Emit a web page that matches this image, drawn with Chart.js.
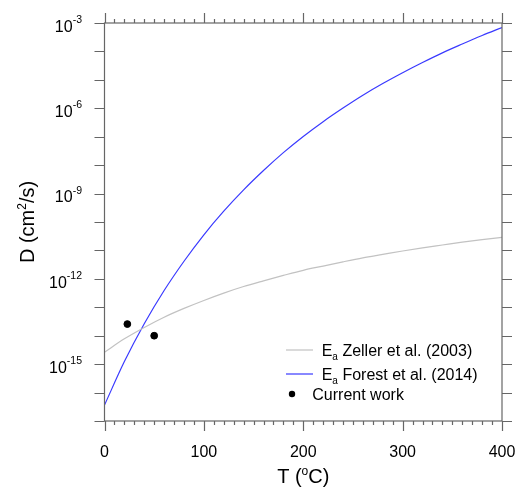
<!DOCTYPE html>
<html><head><meta charset="utf-8">
<script src="https://cdn.jsdelivr.net/npm/chart.js@4.4.0/dist/chart.umd.min.js"></script>
<style>html,body{margin:0;padding:0;background:#fff;}#wrap{width:517px;height:488px;}</style>
</head><body><div id="wrap"><canvas id="c" width="517" height="488"></canvas></div>
<script>
// ---- data ----
const temperatures = [0,20,40,60,80,100,120,140,160,180,200,220,240,260,280,300,320,340,360,380,400];
const zellerD = [2.63e-15,7.76e-15,1.95e-14,4.47e-14,9.12e-14,1.74e-13,3.16e-13,5.37e-13,8.51e-13,1.32e-12,2.00e-12,2.82e-12,3.98e-12,5.50e-12,7.24e-12,9.55e-12,1.23e-11,1.55e-11,1.95e-11,2.40e-11,2.88e-11];
const forestD = [3.63e-17,1.23e-15,2.63e-14,3.89e-13,4.17e-12,3.55e-11,2.40e-10,1.35e-9,6.46e-9,2.75e-8,1.02e-7,3.39e-7,1.02e-6,2.88e-6,7.41e-6,1.78e-5,4.07e-5,8.91e-5,1.82e-4,3.63e-4,6.92e-4];
const currentT = [23, 50];
const currentD = [2.57e-14, 1.0e-14];
const xTickLabels = [0,100,200,300,400];
const yTickExponents = [-3,-6,-9,-12,-15];
const seriesLabels = ['E\u2090 Zeller et al. (2003)','E\u2090 Forest et al. (2014)','Current work'];

const FONT = '"Liberation Sans", Arial, Helvetica, sans-serif';

function drawParts(ctx, parts, x, baseline, align){
  let total = 0;
  parts.forEach(p=>{ctx.font = p.size+'px '+FONT; p.w = ctx.measureText(p.t).width; total += p.w;});
  let cx = align==='right' ? x-total : align==='center' ? x-total/2 : x;
  ctx.textAlign='left'; ctx.textBaseline='alphabetic';
  parts.forEach(p=>{ctx.font = p.size+'px '+FONT; ctx.fillText(p.t, cx, baseline+(p.dy||0)); cx += p.w;});
}

const framePlugin = {
  id:'frame',
  afterDraw(chart){
    const {ctx, chartArea:{left,right,top,bottom}, scales:{x,y}} = chart;
    ctx.save();
    ctx.strokeStyle = '#666'; ctx.lineWidth = 1.2;
    ctx.beginPath();
    for(let v=x.min; v<=x.max; v+=10){
      const px = Math.round(x.getPixelForValue(v))+0.5;
      const len = (v%100===0)?10:4;
      ctx.moveTo(px,bottom); ctx.lineTo(px,bottom+len);
      ctx.moveTo(px,top); ctx.lineTo(px,top-len);
    }
    for(let e=-17; e<=-3; e++){
      const py = Math.round(y.getPixelForValue(Math.pow(10,e)))+0.5;
      ctx.moveTo(left-10,py); ctx.lineTo(left,py);
      ctx.moveTo(right,py); ctx.lineTo(right+10,py);
    }
    ctx.stroke();
    ctx.strokeRect(left,top,right-left,bottom-top);
    ctx.fillStyle = '#000';
    yTickExponents.forEach(e=>{
      const py = y.getPixelForValue(Math.pow(10,e));
      drawParts(ctx,[{t:'10',size:16},{t:String(e),size:10.5,dy:-8.7}], left-22.5, py+8.7, 'right');
    });
    xTickLabels.forEach(v=>{
      const px = x.getPixelForValue(v);
      drawParts(ctx,[{t:String(v),size:16}], px, 456.5, 'center');
    });
    drawParts(ctx,[{t:'T (',size:20},{t:'o',size:12,dy:-8},{t:'C)',size:20}], (left+right)/2, 482.5, 'center');
    ctx.save();
    ctx.translate(34,(top+bottom)/2); ctx.rotate(-Math.PI/2);
    drawParts(ctx,[{t:'D (cm',size:20},{t:'2',size:12,dy:-8},{t:'/s)',size:20}], 0, 0, 'center');
    ctx.restore();
    const ds = chart.data.datasets;
    [[0,350],[1,374]].forEach(([i,yy])=>{
      ctx.strokeStyle = ds[i].borderColor; ctx.lineWidth = 1.2;
      ctx.beginPath(); ctx.moveTo(286,yy); ctx.lineTo(313,yy); ctx.stroke();
      const name = ds[i].label.replace('E\u2090','');
      drawParts(ctx,[{t:'E',size:16},{t:'a',size:10,dy:4},{t:name,size:16}], 321.7, yy+5.7, 'left');
    });
    ctx.fillStyle='#000';
    ctx.beginPath(); ctx.arc(292,394,3.2,0,Math.PI*2); ctx.fill();
    drawParts(ctx,[{t:ds[2].label,size:16}], 312.3, 399.5, 'left');
    ctx.restore();
  }
};

new Chart(document.getElementById('c'),{
  type:'line',
  data:{datasets:[
    {label:seriesLabels[0], data:temperatures.map((t,i)=>({x:t,y:zellerD[i]})), borderColor:'#c2c2c2', borderWidth:1.2, pointRadius:0, cubicInterpolationMode:'monotone', fill:false},
    {label:seriesLabels[1], data:temperatures.map((t,i)=>({x:t,y:forestD[i]})), borderColor:'#3a3aff', borderWidth:1.2, pointRadius:0, cubicInterpolationMode:'monotone', fill:false},
    {label:seriesLabels[2], data:currentT.map((t,i)=>({x:t,y:currentD[i]})), showLine:false, pointRadius:3.4, pointBackgroundColor:'#000', pointBorderColor:'#000', borderColor:'#000'}
  ]},
  options:{
    responsive:false, animation:false, devicePixelRatio:1,
    layout:{padding:{left:104.5,right:15,top:23,bottom:67}},
    plugins:{legend:{display:false}, tooltip:{enabled:false}},
    scales:{
      x:{type:'linear', min:0, max:400, display:false},
      y:{type:'logarithmic', min:1e-17, max:1e-3, display:false}
    }
  },
  plugins:[framePlugin]
});
</script></body></html>
